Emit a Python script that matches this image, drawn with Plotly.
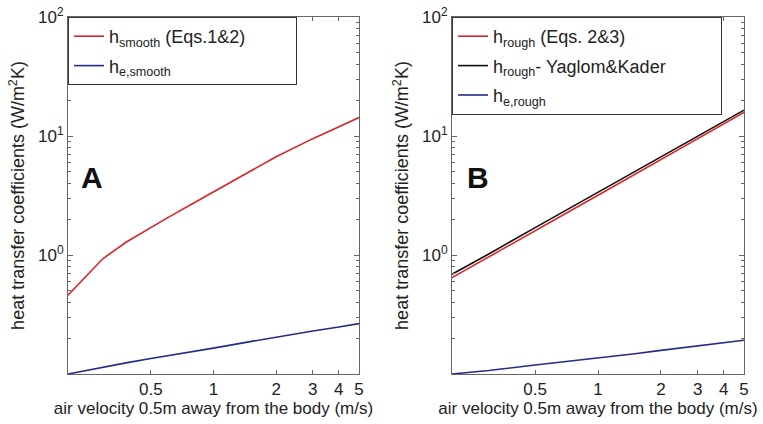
import plotly.graph_objects as go

# ---- data ----
velocity_a = [0.2, 0.25, 0.294, 0.38, 0.5, 0.6, 0.8, 1.0, 1.5, 2.0, 3.0, 4.0, 5.0]
h_smooth = [0.46, 0.70, 0.93, 1.28, 1.71, 2.05, 2.72, 3.40, 5.1, 6.7, 9.5, 12.0, 14.3]
he_smooth = [0.100, 0.108, 0.114, 0.124, 0.135, 0.142, 0.154, 0.165, 0.187, 0.205, 0.230, 0.248, 0.265]

velocity_b = [0.2, 0.3, 0.5, 0.7, 1.0, 1.5, 2.0, 3.0, 4.0, 5.0]
h_rough = [0.645, 0.96, 1.6, 2.23, 3.18, 4.77, 6.35, 9.5, 12.7, 15.8]
h_rough_yk = [0.69, 1.02, 1.70, 2.37, 3.38, 5.06, 6.72, 10.05, 13.3, 16.5]
he_rough = [0.100, 0.107, 0.119, 0.127, 0.136, 0.148, 0.158, 0.172, 0.183, 0.192]

x_tickvals = [0.5, 1, 2, 3, 4, 5]
x_ticktext = ["0.5", "1", "2", "3", "4", "5"]
y_tickvals = [1, 10, 100]
y_ticktext = ["10<sup>0</sup>", "10<sup>1</sup>", "10<sup>2</sup>"]
y_minor = [m * 10 ** e for e in (-1, 0, 1) for m in range(2, 10)]

RED = "#d8262b"
BLUE = "#262a86"
BLACK = "#111111"
AXIS = "#666666"
TEXT = "#222222"
FONT = "Liberation Sans, Arial, sans-serif"
PAD = "&nbsp;"

fig = go.Figure()
traces = [
    (velocity_a, h_smooth, RED, "h<sub>smooth</sub> (Eqs.1&2)" + PAD * 9, "x", "y", "legend"),
    (velocity_a, he_smooth, BLUE, "h<sub>e,smooth</sub>", "x", "y", "legend"),
    (velocity_b, h_rough, RED, "h<sub>rough</sub> (Eqs. 2&3)", "x2", "y2", "legend2"),
    (velocity_b, h_rough_yk, BLACK, "h<sub>rough</sub>- Yaglom&Kader" + PAD * 10, "x2", "y2", "legend2"),
    (velocity_b, he_rough, BLUE, "h<sub>e,rough</sub>", "x2", "y2", "legend2"),
]
for i, (xs, ys, col, name, xa, ya, lg) in enumerate(traces):
    fig.add_trace(go.Scatter(x=xs, y=ys, mode="lines", line=dict(color=col, width=1.6),
                             name=name, xaxis=xa, yaxis=ya, legend=lg, legendgroup=f"g{i}"))

W, H = 763, 424
xdom1 = [68 / W, 359 / W]
xdom2 = [452 / W, 744 / W]
ydom = [1 - 374 / H, 1 - 17 / H]

def xaxis(dom, anchor):
    return dict(domain=dom, anchor=anchor, type="log", range=[-0.69897, 0.69897],
                tickvals=x_tickvals, ticktext=x_ticktext, ticks="inside", ticklen=4,
                tickcolor=AXIS, showline=True, linecolor=AXIS, linewidth=1, mirror="allticks",
                showgrid=False, zeroline=False, automargin=False, tickfont=dict(size=17, color=TEXT),
                title=dict(text="air velocity 0.5m away from the body (m/s)",
                           font=dict(size=17, color=TEXT), standoff=2))

def yaxis(dom, anchor):
    return dict(domain=dom, anchor=anchor, type="log", range=[-1, 2],
                tickvals=y_tickvals, ticktext=y_ticktext, ticks="inside", ticklen=5,
                tickcolor=AXIS, showline=True, linecolor=AXIS, linewidth=1, mirror="allticks",
                showgrid=False, zeroline=False, automargin=False, tickfont=dict(size=17, color=TEXT),
                minor=dict(tickvals=y_minor, ticks="inside", ticklen=3, tickcolor=AXIS),
                title=dict(text="heat transfer coefficients (W/m<sup>2</sup>K)",
                           font=dict(size=18, color=TEXT), standoff=8))

legend_common = dict(xref="paper", yref="paper", xanchor="left", yanchor="top",
                     bgcolor="white", bordercolor="#333", borderwidth=1,
                     font=dict(size=18, family=FONT, color=TEXT), tracegroupgap=3)

fig.update_layout(
    template="none",
    width=W, height=H, margin=dict(l=0, r=0, t=0, b=0, autoexpand=False),
    paper_bgcolor="white", plot_bgcolor="white",
    font=dict(family=FONT, size=17, color=TEXT),
    showlegend=True,
    xaxis=xaxis(xdom1, "y"), yaxis=yaxis(ydom, "x"),
    xaxis2=xaxis(xdom2, "y2"), yaxis2=yaxis(ydom, "x2"),
    legend=dict(x=xdom1[0], y=ydom[1], **legend_common),
    legend2=dict(x=xdom2[0], y=ydom[1], **legend_common),
    annotations=[
        dict(text="<b>A</b>", xref="x domain", yref="y domain", x=(79 - 68) / 291, y=(374 - 178) / 357,
             showarrow=False, font=dict(size=30, color="#111"), xanchor="left", yanchor="middle"),
        dict(text="<b>B</b>", xref="x2 domain", yref="y2 domain", x=(465 - 452) / 292, y=(374 - 178) / 357,
             showarrow=False, font=dict(size=30, color="#111"), xanchor="left", yanchor="middle"),
    ],
)

fig.write_html("out.html", config={"displayModeBar": False},
               post_script="document.body.style.margin='0';document.body.style.overflow='hidden';")
